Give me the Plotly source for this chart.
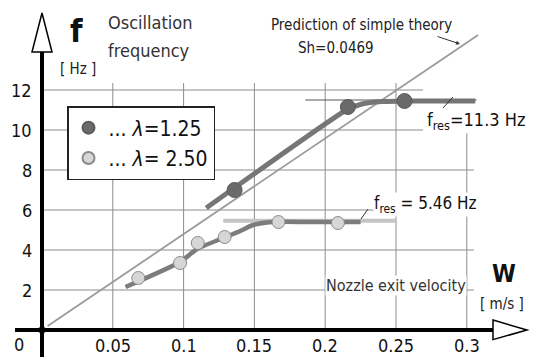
import plotly.graph_objects as go

# ---------------- data ----------------
w_125 = [0.136, 0.216, 0.256]
f_125 = [7.0, 11.15, 11.45]
w_250 = [0.068, 0.0975, 0.110, 0.129, 0.167, 0.209]
f_250 = [2.6, 3.35, 4.35, 4.65, 5.4, 5.35]

fit125_w = [0.116, 0.215, 0.226, 0.240, 0.260, 0.306]
fit125_f = [6.1, 11.0, 11.3, 11.42, 11.45, 11.45]
fit250_w = [0.059, 0.0975, 0.1095, 0.128, 0.140, 0.149, 0.163, 0.190, 0.225]
fit250_f = [2.15, 3.4, 4.05, 4.6, 4.95, 5.25, 5.4, 5.4, 5.4]

fres250_w = [0.128, 0.250]
fres250_f = [5.46, 5.46]
fres125_w = [0.186, 0.307]
fres125_f = [11.5, 11.5]

theory_w = [0.004, 0.308]
theory_f = [0.2, 14.75]

x_ticks = [0.05, 0.1, 0.15, 0.2, 0.25, 0.3]
x_tick_labels = ["0.05", "0.1", "0.15", "0.2", "0.25", "0.3"]
y_ticks = [2, 4, 6, 8, 10, 12]
y_tick_labels = ["2", "4", "6", "8", "10", "12"]

# ---------------- geometry ----------------
W, H = 533, 357
X0, PXW = 42, 1416.0   # pixel of w=0, pixels per m/s
Y0, PXF = 330, 20.0    # pixel of f=0, pixels per Hz
xr = [-X0 / PXW, (W - X0) / PXW]
yr = [-(H - Y0) / PXF, Y0 / PXF]

def px(x):
    return x / W

def py(y):
    return 1 - y / H

FONT = "Liberation Sans Narrow, DejaVu Sans Condensed, Arial Narrow, sans-serif"
GRID = "#8c8c8c"

fig = go.Figure()

shapes = []
# grid lines
for t in x_ticks:
    top = 11.0 if t >= 0.3 else 12.35
    shapes.append(dict(type="line", xref="x", yref="y", x0=t, x1=t, y0=0, y1=top,
                       line=dict(color=GRID, width=1), layer="below"))
for t in y_ticks:
    right = 0.269 if t >= 10 else 0.305
    shapes.append(dict(type="line", xref="x", yref="y", x0=0, x1=right, y0=t, y1=t,
                       line=dict(color=GRID, width=1), layer="below"))

# axes (thick black) with open arrowheads
dx_half = 10 / PXW
shapes.append(dict(type="line", xref="x", yref="y", x0=0, x1=0, y0=yr[0], y1=13.9,
                   line=dict(color="black", width=4)))
shapes.append(dict(type="path", xref="x", yref="y",
                   path=f"M {-dx_half} 13.9 L 0 15.85 L {dx_half} 13.9 Z",
                   line=dict(color="black", width=1.5), fillcolor="white"))
shapes.append(dict(type="line", xref="x", yref="y", x0=-27 / PXW, x1=451 / PXW, y0=0, y1=0,
                   line=dict(color="black", width=4)))
shapes.append(dict(type="path", xref="x", yref="y",
                   path=f"M {451/PXW} 0.5 L {485/PXW} 0 L {451/PXW} -0.48 Z",
                   line=dict(color="black", width=1.5), fillcolor="white"))

# small pointer lines for f_res labels
shapes.append(dict(type="line", xref="paper", yref="paper", x0=px(443), y0=py(108), x1=px(453), y1=py(97),
                   line=dict(color="#333", width=1)))
shapes.append(dict(type="line", xref="paper", yref="paper", x0=px(361), y0=py(219), x1=px(368), y1=py(209),
                   line=dict(color="#333", width=1)))

# theory line
fig.add_trace(go.Scatter(x=theory_w, y=theory_f, mode="lines",
                         line=dict(color="#9a9a9a", width=1.8), showlegend=False, hoverinfo="skip"))
# f_res reference lines
fig.add_trace(go.Scatter(x=fres250_w, y=fres250_f, mode="lines",
                         line=dict(color="#c4c4c4", width=4), showlegend=False, hoverinfo="skip"))
fig.add_trace(go.Scatter(x=fres125_w, y=fres125_f, mode="lines",
                         line=dict(color="#555555", width=1), showlegend=False, hoverinfo="skip"))
# fitted curves
fig.add_trace(go.Scatter(x=fit250_w, y=fit250_f, mode="lines", line_shape="spline",
                         line=dict(color="#7c7c7c", width=4.5, smoothing=0.6),
                         showlegend=False, hoverinfo="skip"))
fig.add_trace(go.Scatter(x=fit125_w, y=fit125_f, mode="lines", line_shape="spline",
                         line=dict(color="#767676", width=5, smoothing=0.5),
                         showlegend=False, hoverinfo="skip"))
# measured points
fig.add_trace(go.Scatter(x=w_125, y=f_125, mode="markers", name="... <i>λ</i>=1.25",
                         marker=dict(color="#6a6a6a", size=15, line=dict(color="#5a5a5a", width=1))))
fig.add_trace(go.Scatter(x=w_250, y=f_250, mode="markers", name="... <i>λ</i>= 2.50",
                         marker=dict(color="#d6d6d6", size=13, line=dict(color="#8a8a8a", width=1))))
# origin marker
fig.add_trace(go.Scatter(x=[0], y=[0], mode="markers", showlegend=False, hoverinfo="skip",
                         marker=dict(color="white", size=7, line=dict(color="#444", width=1))))

ann = []
def text(x, y, s, size, color="#222", xanchor="center", bold=False, bg=None):
    d = dict(xref="paper", yref="paper", x=px(x), y=py(y), text=(f"<b>{s}</b>" if bold else s),
             showarrow=False, xanchor=xanchor, yanchor="middle",
             font=dict(family=FONT, size=size, color=color))
    if bg:
        d["bgcolor"] = bg
        d["borderpad"] = 0
    ann.append(d)

# tick labels
for t, lab in zip(x_ticks, x_tick_labels):
    ann.append(dict(xref="x", yref="paper", x=t, y=py(345), text=lab, showarrow=False,
                    xanchor="center", yanchor="middle", font=dict(family=FONT, size=18, color="#111")))
for t, lab in zip(y_ticks, y_tick_labels):
    ann.append(dict(xref="paper", yref="y", x=px(34), y=t, text=lab, showarrow=False,
                    xanchor="right", yanchor="middle", font=dict(family=FONT, size=18, color="#111")))
text(19, 344, "0", 18, "#111")

text(76, 31, "f", 32, "#111", bold=True)
text(78, 69, "[ Hz ]", 15, "#222")
text(106, 22, "Oscillation", 18, "#333", xanchor="left")
text(106, 51, "frequency", 18, "#333", xanchor="left")
text(362, 25, "Prediction of simple theory", 15, "#222")
text(336, 48, "Sh=0.0469", 15, "#222")
text(476, 121, "f<sub>res</sub>=11.3 Hz", 18, "#111", bg="white")
text(425, 204, "f<sub>res</sub> = 5.46 Hz", 17, "#111", bg="white")
text(396, 285, "Nozzle exit velocity", 16, "#333", bg="white")
text(504, 274, "W", 24, "#111", bold=True)
text(502, 304, "[ m/s ]", 15, "#222")

# arrow pointing at theory line
ann.append(dict(xref="paper", yref="paper", axref="pixel", ayref="pixel",
                x=px(460), y=py(44), ax=-24, ay=-8, text="", showarrow=True,
                arrowhead=2, arrowsize=0.8, arrowwidth=1, arrowcolor="#333"))

fig.update_layout(
    width=W, height=H, margin=dict(l=0, r=0, t=0, b=0),
    paper_bgcolor="white", plot_bgcolor="white",
    xaxis=dict(range=xr, visible=False, fixedrange=True),
    yaxis=dict(range=yr, visible=False, fixedrange=True),
    shapes=shapes, annotations=ann,
    legend=dict(x=px(67), y=py(106), xanchor="left", yanchor="top",
                bgcolor="white", bordercolor="#222", borderwidth=1.5,
                font=dict(family=FONT, size=21, color="#111"),
                itemsizing="constant", tracegroupgap=0),
)

fig.write_html("out.html")
